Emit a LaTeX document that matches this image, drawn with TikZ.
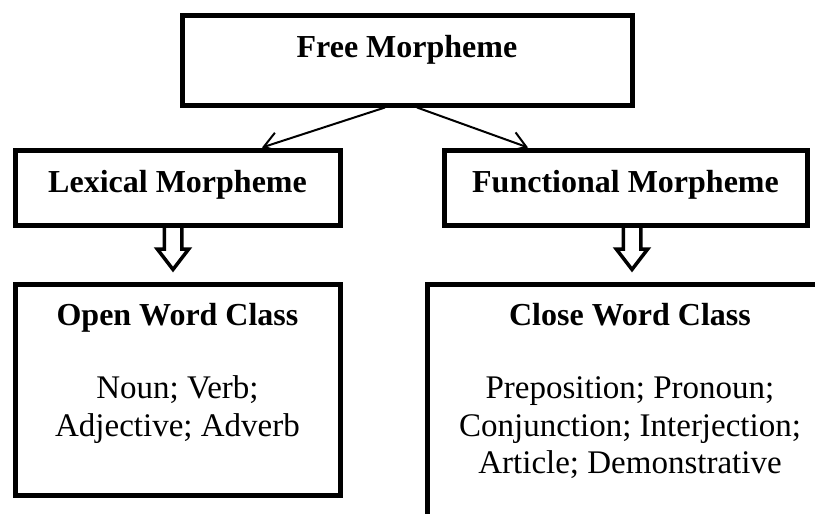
\documentclass[tikz,border=0pt]{standalone}
\usepackage{fontspec}
\setmainfont{Liberation Serif}
\usetikzlibrary{positioning, calc, arrows.meta}

\tikzset{
  caixa/.style={draw, line width=5pt, inner sep=0pt},
  titulo/.style={font=\fontsize{32}{37.5}\selectfont\bfseries},
  texto/.style={align=center, inner sep=0pt, font=\fontsize{33}{37.5}\selectfont},
  seta/.style={line width=2pt, -{Straight Barb[length=15pt,width=20pt]}},
  vazada/.style={line width=3.5pt, line join=miter},
}

% seta vazada para baixo: #1 = topo, #2 = ponta
\newcommand{\setavazada}[2]{%
  \draw[vazada] let \p1=(#1), \p2=(#2) in
    (\x2-8.75pt,\y1) -- (\x2-8.75pt,\y2+20.5pt) -- (\x2-15.75pt,\y2+20.5pt)
    -- (\x2,\y2) -- (\x2+15.75pt,\y2+20.5pt) -- (\x2+8.75pt,\y2+20.5pt)
    -- (\x2+8.75pt,\y1);}

\begin{document}
\begin{tikzpicture}[x=1pt, y=-1pt]
% --- AREA DA FIGURA ---
\useasboundingbox (0,0) rectangle (815,514);
\clip (0,0) rectangle (815,514);

% LAYER 1: Morfema livre
\node[caixa, titulo, minimum width=450pt, minimum height=90pt,
      text height=22pt, text depth=28pt] (livre) at (407,60) {Free Morpheme};

% LAYER 2: Lexical e funcional
\node[caixa, titulo, minimum width=325pt, minimum height=75pt,
      text height=22pt, text depth=13pt] (lexical) at (177.5,187.5) {Lexical Morpheme};
\node[caixa, titulo, minimum width=363pt, minimum height=75pt,
      text height=22pt, text depth=13pt] (funcional) at (625.5,187.5) {Functional Morpheme};

\draw[seta] ([xshift=-22pt]livre.south) -- ([xshift=84.5pt]lexical.north);
\draw[seta] ([xshift=10pt]livre.south) -- ([xshift=-97.5pt]funcional.north);

% LAYER 3: Classes de palavras
\node[caixa, minimum width=325pt, minimum height=211pt] (aberta) at (177.5,389.5) {};
\node[caixa, minimum width=406pt, minimum height=256pt] (fechada) at (630,412) {};

\node[texto, below=22pt of aberta.north] (abertaTxt)
  {\textbf{\fontsize{32}{37.5}\selectfont Open Word Class}\\[35.5pt]
   Noun; Verb;\\ Adjective; Adverb};
\node[texto, below=22pt of fechada.north] (fechadaTxt)
  {\textbf{\fontsize{32}{37.5}\selectfont Close Word Class}\\[35.5pt]
   Preposition; Pronoun;\\ Conjunction; Interjection;\\ Article; Demonstrative};

% LAYER 4: Setas vazadas
\coordinate (pontaA) at ([xshift=-4.5pt, yshift=12pt]aberta.north);
\coordinate (pontaF) at ([xshift=2pt, yshift=12pt]fechada.north);
\setavazada{lexical.south}{pontaA}
\setavazada{funcional.south}{pontaF}
\end{tikzpicture}
\end{document}
